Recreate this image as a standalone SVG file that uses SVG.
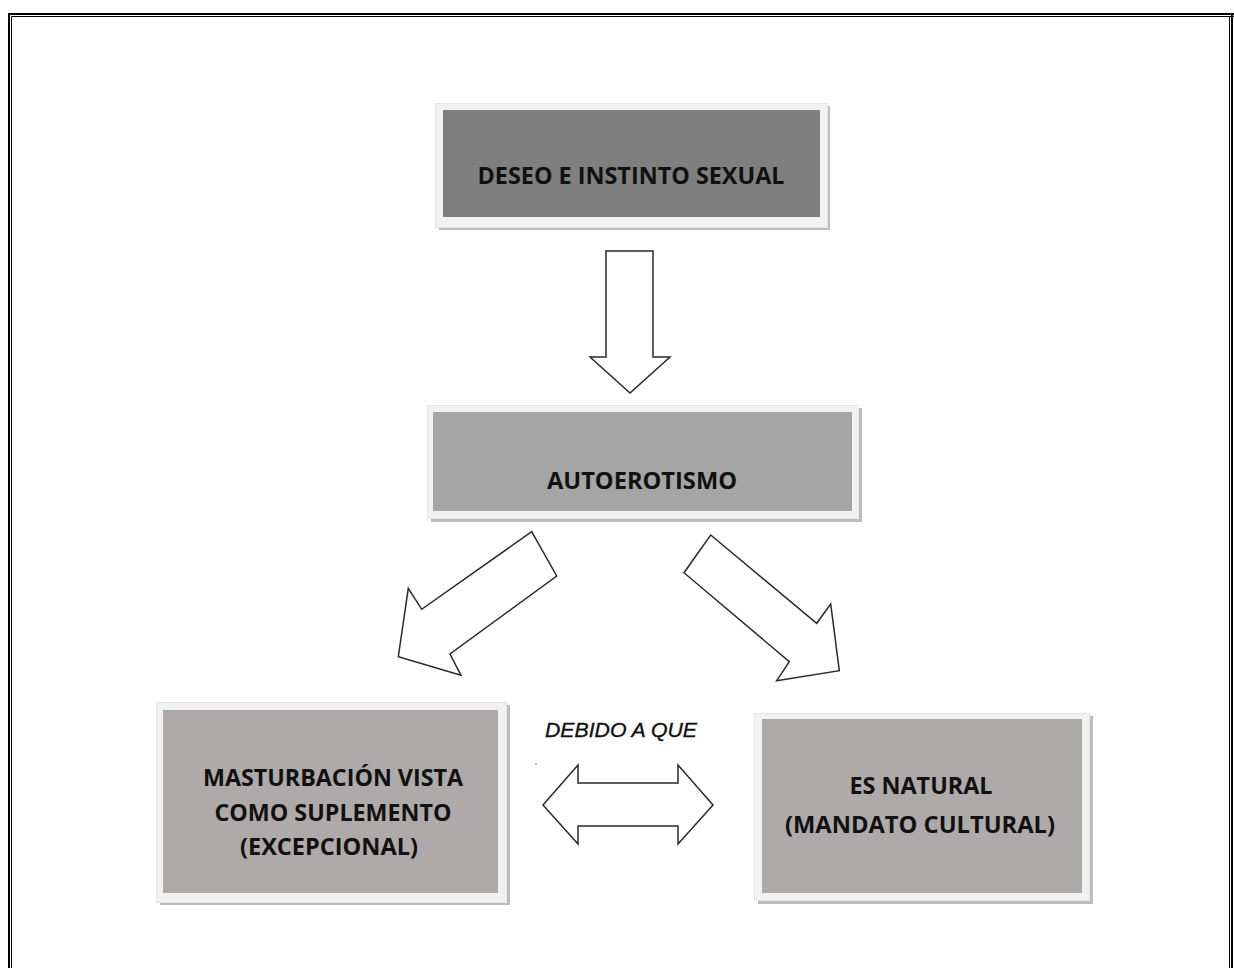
<svg xmlns="http://www.w3.org/2000/svg" width="1234" height="968" viewBox="0 0 1234 968">
<defs>
<style>
.frame{fill:none;stroke:#000}
.shadow{fill:#bdbdbd}
.halo{fill:#f2f2f2;stroke:#e6e6e6;stroke-width:1}
.lbl{font-family:"Open Sans","Liberation Sans",sans-serif;font-weight:700;font-size:23px;fill:#111;text-anchor:middle}
.arrow{fill:#fff;stroke:#2a2a2a;stroke-width:1.5;stroke-linejoin:miter}
.note{font-family:"Liberation Sans",Arial,sans-serif;font-style:italic;font-size:20px;fill:#111;stroke:#111;stroke-width:0.35}
</style>
</defs>
<rect width="1234" height="968" fill="#fff"/>
<g id="frame">
<path class="frame" stroke-width="2" d="M9 968 V14 H1234"/>
<path class="frame" stroke-width="1" d="M11.5 968 V16.5 H1234"/>
<path class="frame" stroke-width="2" d="M1232 14 V968"/>
<path class="frame" stroke-width="1" d="M1229.5 16.5 V968"/>
</g>
<g id="node-deseo">
<rect class="shadow" x="439" y="106" width="391" height="124"/>
<rect class="halo" x="435.5" y="103.5" width="392" height="124"/>
<rect x="443" y="110" width="377" height="107" fill="#7f7f7f"/>
<text class="lbl" x="631" y="184" textLength="307" lengthAdjust="spacingAndGlyphs">DESEO E INSTINTO SEXUAL</text>
</g>
<g id="node-autoerotismo">
<rect class="shadow" x="431" y="408" width="431" height="114"/>
<rect class="halo" x="427.5" y="405.5" width="431" height="113"/>
<rect x="433" y="412" width="419" height="99" fill="#a5a5a5"/>
<text class="lbl" x="642" y="489" textLength="190" lengthAdjust="spacingAndGlyphs">AUTOEROTISMO</text>
</g>
<g id="node-masturbacion">
<rect class="shadow" x="160" y="705" width="350" height="200"/>
<rect class="halo" x="156.5" y="702.5" width="350" height="200"/>
<rect x="163" y="710" width="335" height="183" fill="#aeaaaa"/>
<text class="lbl" x="333" y="786" textLength="260" lengthAdjust="spacingAndGlyphs">MASTURBACIÓN VISTA</text>
<text class="lbl" x="333" y="821" textLength="237" lengthAdjust="spacingAndGlyphs">COMO SUPLEMENTO</text>
<text class="lbl" x="329" y="855" textLength="178" lengthAdjust="spacingAndGlyphs">(EXCEPCIONAL)</text>
</g>
<g id="node-natural">
<rect class="shadow" x="758" y="716" width="335" height="188"/>
<rect class="halo" x="754.5" y="713.5" width="335" height="187"/>
<rect x="762" y="719" width="320" height="174" fill="#aeaaaa"/>
<text class="lbl" x="921" y="794" textLength="143" lengthAdjust="spacingAndGlyphs">ES NATURAL</text>
<text class="lbl" x="920" y="833" textLength="270" lengthAdjust="spacingAndGlyphs">(MANDATO CULTURAL)</text>
</g>
<g id="label-debido">
<text class="note" x="545" y="737" textLength="152" lengthAdjust="spacingAndGlyphs">DEBIDO A QUE</text>
<circle cx="536" cy="764" r="0.8" fill="#555"/>
</g>
<g id="connectors">
<polygon class="arrow" points="606,251 653,251 653,357 670,357 630,393 590,357 606,357"/>
<polygon class="arrow" points="531.7,531.7 556.7,576 450,654 461,675.3 398.3,656.7 408.3,588.3 421.7,609.3"/>
<polygon class="arrow" points="710.7,535 816.7,623.3 830.7,604 839.3,670.7 776.7,680.7 789.3,661.7 684,572.7"/>
<polygon class="arrow" points="543,805 578,765 578,783 678,783 678,765 713,805 678,844 678,826 578,826 578,844"/>
</g>
</svg>
